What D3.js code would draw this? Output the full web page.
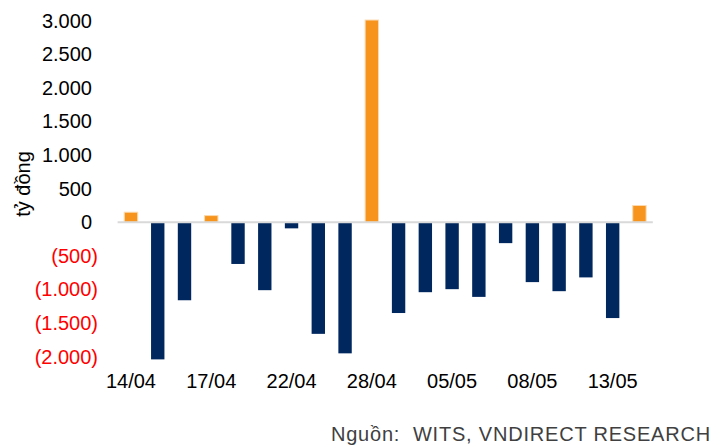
<!DOCTYPE html>
<html><head><meta charset="utf-8">
<script src="https://cdn.jsdelivr.net/npm/d3@7"></script>
<style>body{margin:0;background:#fff}svg{display:block}text{font-family:"Liberation Sans",Arial,sans-serif}</style>
</head><body><svg id="c" width="727" height="448"></svg>
<script>
const categories = ["14/04","15/04","16/04","17/04","20/04","21/04","22/04","23/04","27/04","28/04","29/04","04/05","05/05","06/05","07/05","08/05","11/05","12/05","13/05","14/05"];
const values = [150,-2040,-1160,100,-620,-1010,-90,-1660,-1950,3010,-1350,-1040,-995,-1110,-310,-890,-1025,-820,-1425,250];
const xTickLabels = ["14/04","17/04","22/04","28/04","05/05","08/05","13/05"];
const yTicks = [-2000,-1500,-1000,-500,0,500,1000,1500,2000,2500,3000];
const yTitle = "tỷ đồng";
const sourceText = "Nguồn:  WITS, VNDIRECT RESEARCH";

const svg = d3.select("#c");
const x = d3.scaleBand().domain(categories).range([117.6, 652.8]).paddingInner(0.5).paddingOuter(0.25);
const y = d3.scaleLinear().domain([-2000, 3000]).range([356.7, 20.7]);

const fmt = v => {
  const s = d3.format(",")(Math.abs(v)).replace(/,/g, ".");
  return v < 0 ? "(" + s + ")" : s;
};

// bars
svg.append("g").selectAll("rect").data(values).join("rect")
  .attr("x", (d,i) => x(categories[i]))
  .attr("width", x.bandwidth())
  .attr("y", d => d >= 0 ? y(d) : y(0))
  .attr("height", d => Math.abs(y(d) - y(0)))
  .attr("fill", d => d >= 0 ? "#F7941D" : "#00275E")
  .attr("stroke", d => d >= 0 ? "#FCD9AE" : "none")
  .attr("stroke-width", 1);

// zero line
svg.append("line").attr("x1", 117.6).attr("x2", 652.8)
  .attr("y1", y(0)).attr("y2", y(0))
  .attr("stroke", "#D9D9D9").attr("stroke-width", 2);

// y axis
const yAxis = svg.append("g").attr("transform", "translate(98,0)")
  .call(d3.axisLeft(y).tickValues(yTicks).tickFormat(fmt).tickSize(0).tickPadding(0));
yAxis.select(".domain").remove();
yAxis.selectAll("text")
  .attr("font-size", 20)
  .attr("fill", d => d < 0 ? "#FF0000" : "#000")
  .attr("dx", d => d < 0 ? 0 : -6)
  .style("font-family", '"Liberation Sans",Arial,sans-serif');

// x axis
const xAxis = svg.append("g").attr("transform", `translate(0,${y(-2000)})`)
  .call(d3.axisBottom(x).tickValues(xTickLabels).tickSize(0).tickPadding(17));
xAxis.select(".domain").remove();
xAxis.selectAll("text").attr("font-size", 20).attr("fill", "#000")
  .style("font-family", '"Liberation Sans",Arial,sans-serif');

// y title
svg.append("text").attr("transform", "translate(30,184) rotate(-90)")
  .attr("text-anchor", "middle").attr("font-size", 20).attr("fill", "#000")
  .text(yTitle);

// source
svg.append("text").attr("x", 711).attr("y", 441).attr("text-anchor", "end")
  .attr("font-size", 20).attr("fill", "#404040").style("white-space", "pre")
  .attr("letter-spacing", 0.8)
  .text(sourceText);
</script></body></html>
